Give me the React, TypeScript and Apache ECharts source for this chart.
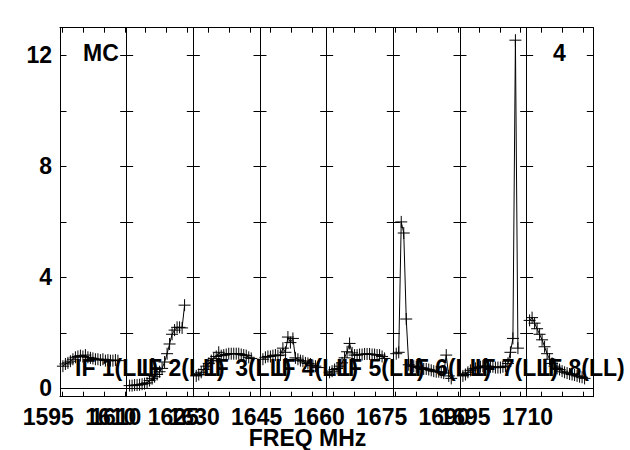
import React, { useEffect, useRef } from "react";
import * as echarts from "echarts";

// ---- data ----
const ifStartMHz = [1594.45, 1610.45, 1626.45, 1642.45, 1658.45, 1674.45, 1690.45, 1706.45];
const ifWidthMHz = 16;
const chanOffsetMHz = 0.7;
const chanStepMHz = 0.6;

const if1 = [0.8, 0.88, 0.92, 0.98, 1.05, 1.12, 1.15, 1.18, 1.15, 1.2, 1.12, 1.1, 1.08, 1.05, 1.05, 1.02, 1.05, 1.0, 1.02, 1.0, 1.0, 1.02, 1.0];
const if2 = [0.1, 0.1, 0.12, 0.12, 0.13, 0.15, 0.17, 0.2, 0.28, 0.35, 0.42, 0.5, 0.6, 0.72, 0.95, 1.25, 1.6, 1.95, 2.1, 2.2, 2.2, 2.18, 3.0];
const if3 = [0.45, 0.5, 0.58, 0.68, 0.8, 0.9, 1.0, 1.08, 1.15, 1.3, 1.18, 1.2, 1.22, 1.25, 1.25, 1.25, 1.25, 1.25, 1.22, 1.2, 1.18, 1.12, 1.08];
const if4 = [1.05, 1.12, 1.15, 1.15, 1.18, 1.2, 1.18, 1.2, 1.45, 1.3, 1.85, 1.65, 1.8, 1.1, 1.05, 1.0, 0.98, 0.92, 0.9, 0.88, 0.82, 0.8, 0.75];
const if5 = [0.58, 0.62, 0.68, 0.72, 0.8, 0.92, 1.1, 1.32, 1.62, 1.28, 1.2, 1.2, 1.22, 1.22, 1.24, 1.24, 1.24, 1.22, 1.22, 1.2, 1.2, 1.15, 1.08];
const if6 = [1.25, 1.3, 6.0, 5.6, 2.5, 0.85, 0.8, 0.8, 0.78, 0.75, 0.72, 0.7, 0.7, 0.68, 0.65, 0.62, 0.6, 0.6, 0.58, 0.55, 1.2, 0.45, 0.36];
const if7 = [0.45, 0.5, 0.58, 0.65, 0.7, 0.72, 0.75, 0.78, 0.8, 0.8, 0.8, 0.78, 0.78, 0.75, 0.75, 0.75, 0.78, 0.8, 0.9, 1.3, 1.8, 12.55, 1.45];
const if8 = [2.45, 2.55, 2.35, 2.15, 1.95, 1.75, 1.5, 1.25, 1.05, 0.9, 0.8, 0.72, 0.68, 0.62, 0.58, 0.55, 0.52, 0.5, 0.48, 0.45, 0.42, 0.4, 0.36];
const ifAmplitudes = [if1, if2, if3, if4, if5, if6, if7, if8];

const ifNames = ["IF 1(LL)", "IF 2(LL)", "IF 3(LL)", "IF 4(LL)", "IF 5(LL)", "IF 6(LL)", "IF 7(LL)", "IF 8(LL)"];
const yTickValues = [0, 2, 4, 6, 8, 10, 12];
const yLabelValues = [0, 4, 8, 12];
const freqLabelValues = [1595, 1610, 1625, 1630, 1645, 1660, 1675, 1690, 1695, 1710];
const freqLabelEcho = [1610];
const yMin = -0.3;
const yMax = 13;
const sourceName = "MC";
const stokesTag = "4";
const xAxisTitle = "FREQ MHz";

// ---- layout ----
const PLOT_L = 60;
const PLOT_T = 27.7;
const PLOT_W = 533.33;
const PLOT_H = 369;
const PW = PLOT_W / ifStartMHz.length;
const FONT = "'Liberation Sans', Arial, Helvetica, sans-serif";
const FS = 23;
const CROSS = "path://M0,6L12,6M6,0L6,12";

function tickValues(s: number, e: number) {
  const out: number[] = [];
  for (let v = Math.ceil(s / 5) * 5; v < e; v += 5) out.push(v);
  return out;
}

function buildOption() {
  const grid: any[] = [];
  const xAxis: any[] = [];
  const yAxis: any[] = [];
  const series: any[] = [];
  const line = { color: "#000", width: 1 };

  ifStartMHz.forEach((start, k) => {
    const end = start + ifWidthMHz;
    grid.push({ left: PLOT_L + k * PW, top: PLOT_T, width: PW, height: PLOT_H });
    const xt = tickValues(start, end);
    ["bottom", "top"].forEach((pos) => {
      xAxis.push({
        gridIndex: k,
        type: "value",
        position: pos,
        min: start,
        max: end,
        axisLine: { show: true, onZero: false, lineStyle: line },
        axisTick: { show: true, inside: true, length: 5, customValues: xt, lineStyle: line },
        axisLabel: { show: false },
        splitLine: { show: false },
      });
    });
    ["left", "right"].forEach((pos) => {
      const showLab = k === 0 && pos === "left";
      yAxis.push({
        gridIndex: k,
        type: "value",
        position: pos,
        min: yMin,
        max: yMax,
        axisLine: { show: true, onZero: false, lineStyle: line },
        axisTick: { show: true, inside: true, length: 6.5, customValues: yTickValues, lineStyle: line },
        axisLabel: showLab
          ? {
              show: true,
              customValues: yLabelValues,
              formatter: (v: number) => String(v),
              margin: 8,
              color: "#000",
              fontSize: FS,
              fontWeight: "bold",
              fontFamily: FONT,
            }
          : { show: false },
        splitLine: { show: false },
      });
    });
    const data = ifAmplitudes[k].map((v, i) => [start + chanOffsetMHz + i * chanStepMHz, v]);
    series.push({
      type: "line",
      xAxisIndex: 2 * k,
      yAxisIndex: 2 * k,
      data,
      symbol: CROSS,
      symbolSize: 12,
      symbolKeepAspect: false,
      showSymbol: true,
      lineStyle: { color: "#000", width: 1 },
      itemStyle: { color: "none", borderColor: "#000", borderWidth: 1 },
      silent: true,
      markLine: {
        silent: true,
        symbol: ["none", "none"],
        label: { show: false },
        lineStyle: { color: "#000", width: 1, type: "solid" },
        data: [{ yAxis: 0 }],
      },
    });
  });

  // frequency label axes (AIPS draws labels offset left of their ticks)
  const labelAxis = (gi: number, values: number[]) => ({
    gridIndex: gi,
    type: "value",
    min: ifStartMHz[0],
    max: ifStartMHz[0] + ifWidthMHz * ifStartMHz.length,
    axisLine: { show: false, onZero: false },
    axisTick: { show: false },
    splitLine: { show: false },
    axisLabel: {
      show: true,
      customValues: values,
      formatter: (v: number) => String(v),
      margin: 9,
      color: "#000",
      fontSize: FS,
      fontWeight: "bold",
      fontFamily: FONT,
      showMinLabel: true,
      showMaxLabel: true,
    },
  });
  const gLab = grid.length;
  grid.push({ left: PLOT_L - 14, top: PLOT_T, width: PLOT_W, height: PLOT_H });
  xAxis.push(labelAxis(gLab, freqLabelValues));
  yAxis.push({ gridIndex: gLab, type: "value", show: false, min: yMin, max: yMax });
  grid.push({ left: PLOT_L - 9, top: PLOT_T, width: PLOT_W, height: PLOT_H });
  xAxis.push(labelAxis(gLab + 1, freqLabelEcho));
  yAxis.push({ gridIndex: gLab + 1, type: "value", show: false, min: yMin, max: yMax });

  const txt = (text: string, x: number, y: number, align = "left") => ({
    type: "text",
    x,
    y,
    z: 100,
    silent: true,
    style: {
      text,
      fill: "#000",
      fontSize: FS,
      fontWeight: "bold",
      fontFamily: FONT,
      align,
      verticalAlign: "middle",
    },
  });

  const graphic = [
    ...ifNames.map((t, k) => txt(t, PLOT_L + k * PW + 15, 368)),
    txt(sourceName, 83, 53),
    txt(stokesTag, 553, 53),
    txt(xAxisTitle, 307.5, 437.5, "center"),
  ];

  return {
    animation: false,
    backgroundColor: "#fff",
    grid,
    xAxis,
    yAxis,
    series,
    graphic,
  };
}

export default function App() {
  const ref = useRef<HTMLDivElement>(null);
  useEffect(() => {
    if (!ref.current) return;
    const chart = echarts.init(ref.current, null, { renderer: "svg" });
    chart.setOption(buildOption() as any);
    return () => chart.dispose();
  }, []);
  return (
    <div
      ref={ref}
      style={{ position: "absolute", left: 0, top: 0, width: 630, height: 450, background: "#fff" }}
    />
  );
}
